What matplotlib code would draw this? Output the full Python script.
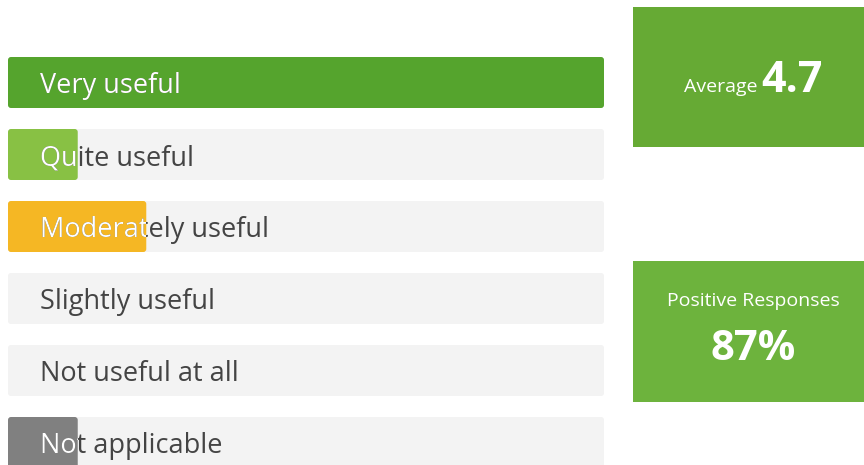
import matplotlib
matplotlib.use("Agg")
import matplotlib.pyplot as plt
from matplotlib.patches import FancyBboxPatch, Rectangle
from matplotlib.transforms import Bbox, TransformedBbox

plt.rcParams['font.family'] = ['Open Sans', 'DejaVu Sans']

categories = ["Very useful", "Quite useful", "Moderately useful",
              "Slightly useful", "Not useful at all", "Not applicable"]
values = [100, 11.7, 23.2, 0, 0, 11.7]   # bar length, % of the longest bar
bar_colors = ["#55A42D", "#88C144", "#F5B724", "#A0A0A0", "#A0A0A0", "#808080"]
average_label = "Average"
average_value = "4.7"
positive_label = "Positive Responses"
positive_value = "87%"

W, H = 864, 465
fig = plt.figure(figsize=(W / 100, H / 100), dpi=100)
fig.patch.set_facecolor("white")

# bar axes (pixel geometry from reference)
ax = fig.add_axes([8 / W, (H - 478.5) / H, 596 / W, 432 / H])
ax.set_xlim(0, 100)
ax.set_ylim(len(categories) - 0.5, -0.5)
ax.axis("off")

ypos = list(range(len(categories)))
bar_h = 51 / 72
ux = 100 / 596
uy = len(categories) / 432
aspect = uy / ux
r = 3 * ux

track = ax.barh(ypos, [100] * len(categories), height=bar_h, color="#F3F3F3")
fills = ax.barh(ypos, values, height=bar_h, color=bar_colors)

def rounded(bar, color):
    p = FancyBboxPatch((bar.get_x(), bar.get_y()), bar.get_width(), bar.get_height(),
                       boxstyle=f"round,pad=0,rounding_size={r}",
                       mutation_aspect=aspect, facecolor=color, edgecolor="none",
                       transform=ax.transData, clip_on=False)
    ax.add_patch(p)
    bar.set_visible(False)
    return p

for b in track:
    rounded(b, "#F3F3F3")

text_x = (40 - 8) * ux
dy = (93 - 82.5) / 72
for i, (b, v, c, lab) in enumerate(zip(fills, values, bar_colors, categories)):
    ax.text(text_x, i + dy, lab, fontsize=19.5, color="#444444", va="baseline",
            ha="left", zorder=3)
    if v > 0:
        rounded(b, c)
        t = ax.text(text_x, i + dy, lab, fontsize=19.5, color="white", va="baseline",
                    ha="left", zorder=4)
        clip = TransformedBbox(Bbox([[b.get_x(), b.get_y()],
                                     [b.get_x() + b.get_width(), b.get_y() + b.get_height()]]),
                               ax.transData)
        t.set_clip_path(None)
        t.set_clip_box(clip)
        t.set_clip_on(True)

# overlay for the summary boxes, pixel coordinates
ov = fig.add_axes([0, 0, 1, 1])
ov.set_xlim(0, W)
ov.set_ylim(H, 0)
ov.axis("off")
ov.patch.set_alpha(0)

ov.add_patch(Rectangle((633, 7), 231, 140, facecolor="#66AA34", edgecolor="none"))
ov.text(757, 92, average_label, fontsize=14, color="white", ha="right", va="baseline")
ov.text(761, 92, average_value, fontsize=31, fontweight="bold", color="white",
        ha="left", va="baseline")

ov.add_patch(Rectangle((633, 261), 231, 141, facecolor="#6DB33D", edgecolor="none"))
ov.text(753.5, 301, positive_label, fontsize=14, color="white", ha="center",
        va="center")
ov.text(753.5, 360, positive_value, fontsize=30, fontweight="bold", color="white",
        ha="center", va="baseline")

fig.savefig("out.png", dpi=100, facecolor="white")
